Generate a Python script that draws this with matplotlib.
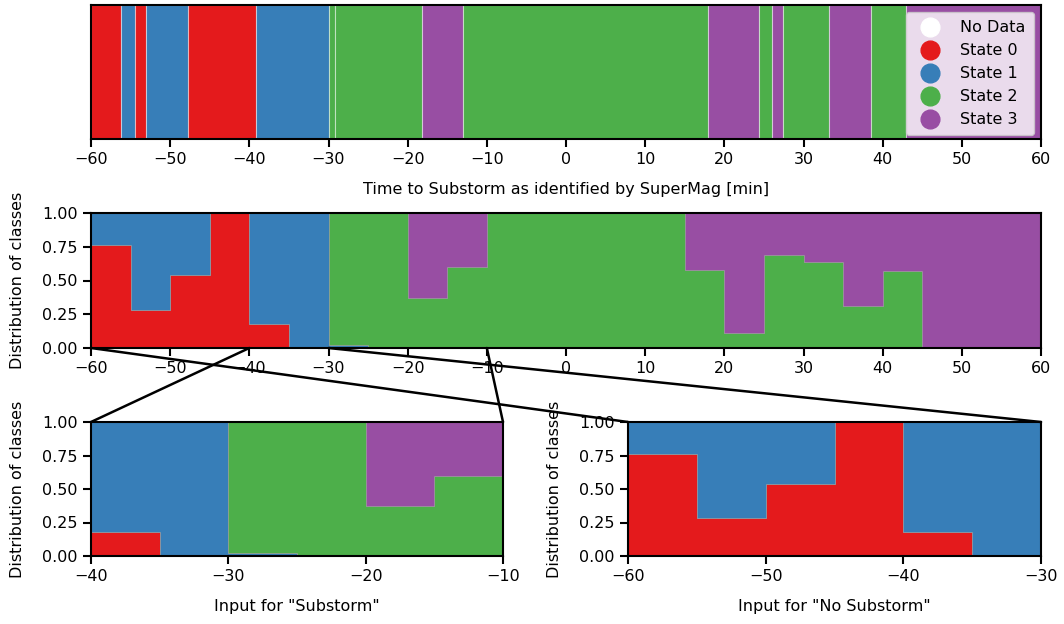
import numpy as np
import matplotlib
matplotlib.use('Agg')
import matplotlib.pyplot as plt
from matplotlib.lines import Line2D
from matplotlib.patches import ConnectionPatch

# state colours (Set1)
state_colors = ['#e41a1c', '#377eb8', '#4daf4a', '#984ea3']
state_names = ['State 0', 'State 1', 'State 2', 'State 3']

# top panel: predicted state sequence
seq_edges = [-60, -56.25, -54.5, -53.1, -47.7, -39.1, -29.9, -29.2, -18.15, -13.0,
             17.9, 24.4, 26.0, 27.45, 33.2, 38.5, 42.9, 60]
seq_states = [0, 1, 0, 1, 0, 1, 2, 2, 3, 2, 3, 2, 3, 2, 3, 2, 3]

# middle panel: distribution of classes per 5 min bin
bin_edges = list(range(-60, 61, 5))
frac_state0 = [0.76, 0.28, 0.54, 1.00, 0.18, 0.00, 0.00, 0.00, 0.00, 0.00, 0.00, 0.00,
               0.00, 0.00, 0.00, 0.00, 0.00, 0.00, 0.00, 0.00, 0.00, 0.00, 0.00, 0.00]
frac_state1 = [0.24, 0.72, 0.46, 0.00, 0.82, 1.00, 0.02, 0.00, 0.00, 0.00, 0.00, 0.00,
               0.00, 0.00, 0.00, 0.00, 0.00, 0.00, 0.00, 0.00, 0.00, 0.00, 0.00, 0.00]
frac_state2 = [0.00, 0.00, 0.00, 0.00, 0.00, 0.00, 0.98, 1.00, 0.37, 0.60, 1.00, 1.00,
               1.00, 1.00, 1.00, 0.58, 0.11, 0.69, 0.64, 0.31, 0.57, 0.00, 0.00, 0.00]
frac_state3 = [0.00, 0.00, 0.00, 0.00, 0.00, 0.00, 0.00, 0.00, 0.63, 0.40, 0.00, 0.00,
               0.00, 0.00, 0.00, 0.42, 0.89, 0.31, 0.36, 0.69, 0.43, 1.00, 1.00, 1.00]

plt.rcParams['font.family'] = ['DejaVu Sans']
plt.rcParams['font.size'] = 11.5
plt.rcParams['axes.linewidth'] = 1.5
plt.rcParams['xtick.major.width'] = 1.5
plt.rcParams['ytick.major.width'] = 1.5
plt.rcParams['xtick.major.size'] = 6
plt.rcParams['ytick.major.size'] = 6
plt.rcParams['axes.labelpad'] = 11

W, H = 1064, 624
fig = plt.figure(figsize=(W / 100, H / 100), dpi=100)


def px_axes(left, top, right, bottom):
    return fig.add_axes([left / W, 1 - bottom / H, (right - left) / W, (bottom - top) / H])


ax_top = px_axes(91, 5, 1041, 139)
ax_mid = px_axes(91, 213, 1041, 348)
ax_left = px_axes(91, 422, 503, 556)
ax_right = px_axes(628, 422, 1041, 556)

# sequence
for i, s in enumerate(seq_states):
    ax_top.axvspan(seq_edges[i], seq_edges[i + 1], color=state_colors[s],
                   ec=(1, 1, 1, 0.45), lw=0.8)
ax_top.set_xlim(-60, 60)
ax_top.set_ylim(0, 1)
ax_top.set_yticks([])
ax_top.set_xticks(range(-60, 61, 10))
ax_top.set_xlabel('Time to Substorm as identified by SuperMag [min]')

handles = [Line2D([], [], ls='', marker='o', ms=13.5, color='white', label='No Data')]
for c, n in zip(state_colors, state_names):
    handles.append(Line2D([], [], ls='', marker='o', ms=13.5, color=c, label=n))
ax_top.legend(handles=handles, loc='upper right', borderaxespad=0.45, labelspacing=0.5,
              handletextpad=0.9, borderpad=0.5)


def draw_dist(ax):
    x = np.array(bin_edges)
    bottom = np.zeros(len(x))
    for frac, c in zip([frac_state0, frac_state1, frac_state2, frac_state3], state_colors):
        y = np.array(frac + [frac[-1]])
        ax.fill_between(x, bottom, bottom + y, step='post', color=c,
                        ec=(0.6, 0.6, 0.6, 0.8), lw=0.5)
        bottom = bottom + y
    ax.set_ylim(0, 1)
    ax.set_yticks([0, 0.25, 0.5, 0.75, 1.0])
    ax.set_ylabel('Distribution of classes', labelpad=12.5)


draw_dist(ax_mid)
ax_mid.set_xlim(-60, 60)
ax_mid.set_xticks(range(-60, 61, 10))

draw_dist(ax_left)
ax_left.set_xlim(-40, -10)
ax_left.set_xticks([-40, -30, -20, -10])
ax_left.set_xlabel('Input for "Substorm"')

draw_dist(ax_right)
ax_right.set_xlim(-60, -30)
ax_right.set_xticks([-60, -50, -40, -30])
ax_right.set_xlabel('Input for "No Substorm"')

# connector lines from middle panel to the zoomed panels
for ax_z, (x0, x1) in [(ax_left, (-40, -10)), (ax_right, (-60, -30))]:
    for xa, xb in [(x0, 0), (x1, 1)]:
        con = ConnectionPatch(xyA=(xa, 0), coordsA=ax_mid.transData,
                              xyB=(xb, 1), coordsB=ax_z.transAxes,
                              color='black', lw=1.8)
        fig.add_artist(con)

fig.savefig('out.png', dpi=100)
